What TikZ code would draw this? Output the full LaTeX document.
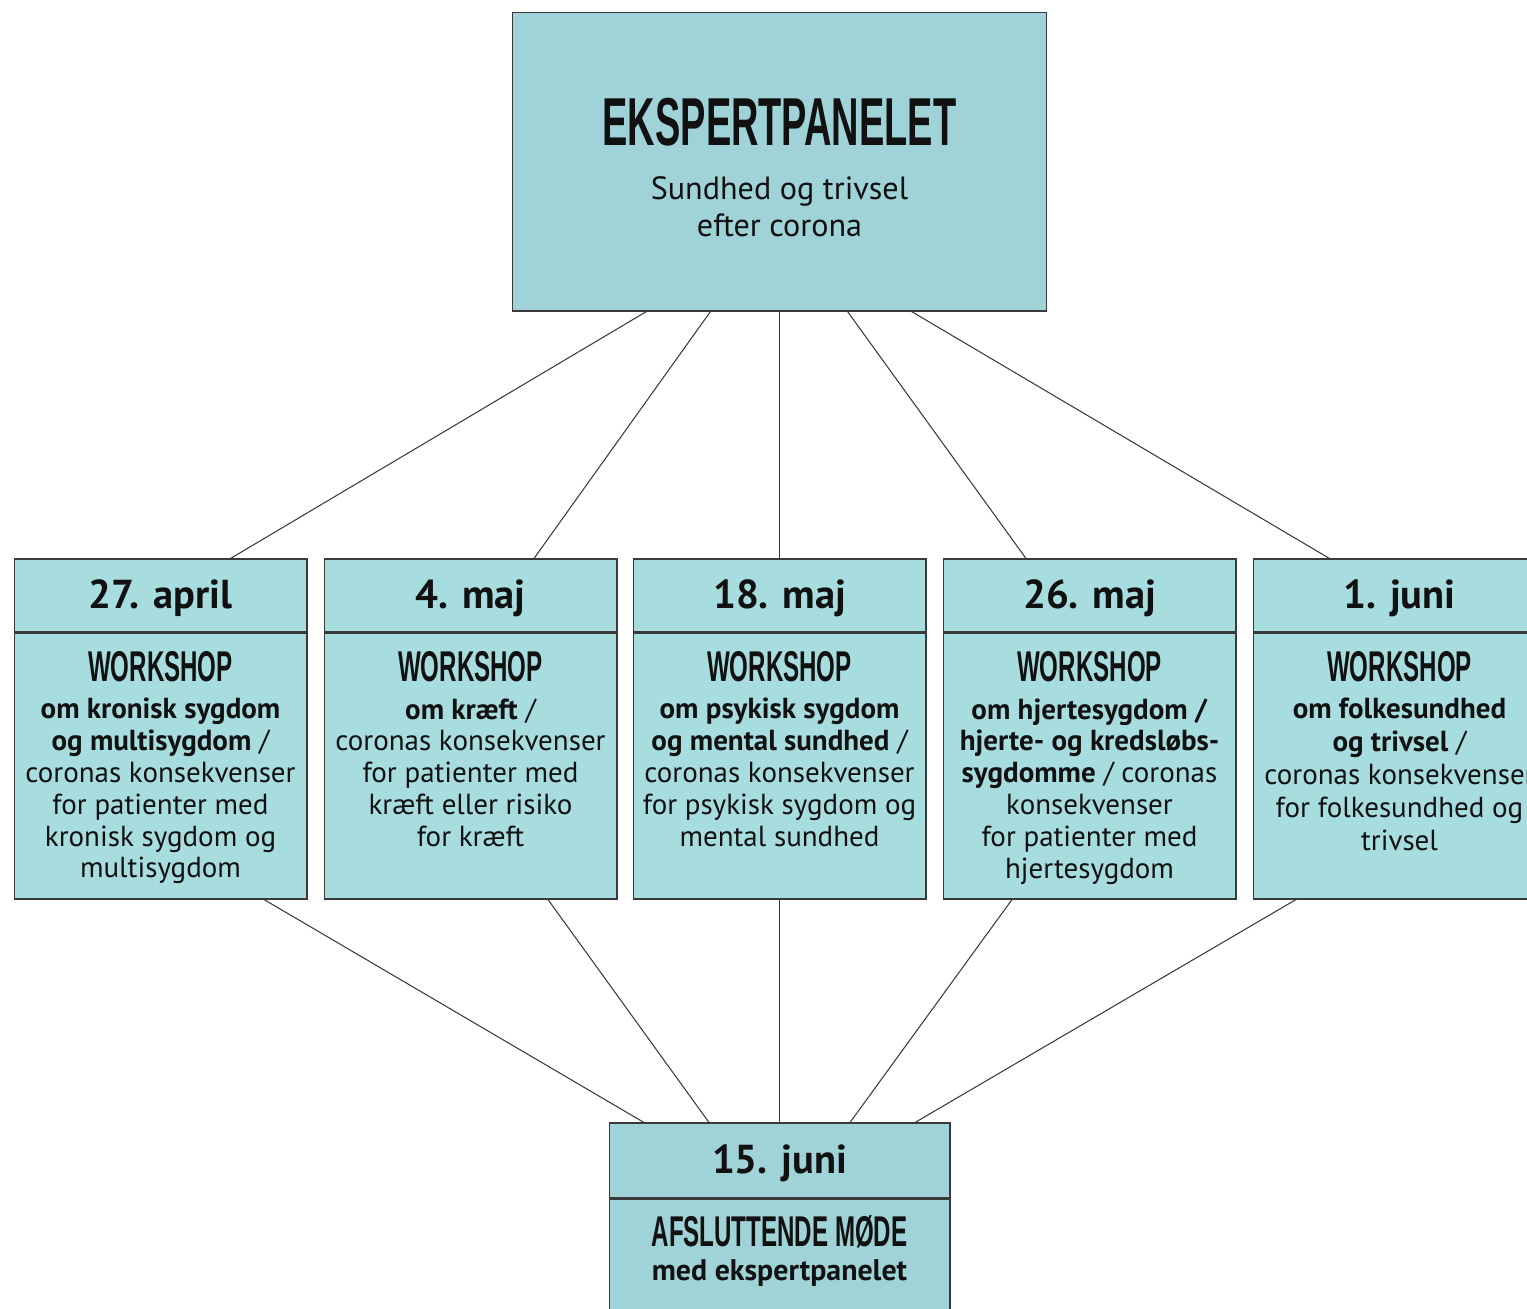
\documentclass[tikz,border=0pt]{standalone}
\usepackage{fontspec}
\setmainfont{PT Sans}
\newfontfamily\headfont[FakeStretch=0.56]{Liberation Sans}
\usetikzlibrary{positioning, calc}
\definecolor{panelfill}{HTML}{9FD3D8}
\definecolor{wsfill}{HTML}{A8DDE0}
\definecolor{frameline}{HTML}{3A3A3A}
\definecolor{textprimary}{HTML}{111111}

\begin{document}
\begin{tikzpicture}[x=0.02cm, y=-0.02cm,
    box/.style={draw=frameline, line width=0.6pt, inner sep=0pt, fill=wsfill},
    datebox/.style={box, minimum width=5.86cm, minimum height=1.46cm, text height=16pt, text depth=1pt, font=\fontsize{23}{28}\selectfont\bfseries, text=textprimary},
    bodybox/.style={box, minimum width=5.86cm, minimum height=5.32cm, anchor=north},
    head/.style={font=\fontsize{24.5}{28}\headfont\bfseries, text=textprimary, inner sep=0pt},
    body/.style={font=\fontsize{16.5}{18.1}\selectfont, align=center, text=textprimary, inner sep=0pt, anchor=north},
    link/.style={draw=frameline, line width=0.6pt}]
  \useasboundingbox (0,0) rectangle (1527,1308);
  \node[box, fill=panelfill, minimum width=10.7cm, minimum height=5.98cm] (panel) at (779.5,161.5) {};
  \node[font=\fontsize{38.6}{40}\headfont\bfseries, text=textprimary, inner sep=0pt] (title) at (779.5,122) {EKSPERTPANELET};
  \node[font=\fontsize{18.3}{21}\selectfont, align=center, text=textprimary, inner sep=0pt] (subtitle) at (779.5,207) {Sundhed og trivsel\\efter corona};

  \node[datebox] (d1) at (160.5,595.5) {27. april};
  \node[bodybox] (b1) at (d1.south) {};
  \node[head] (h1) at (160.5,667) {WORKSHOP};
  \node[body] (t1) at (160.5,698) {\textbf{om kronisk sygdom}\\\textbf{og multisygdom} /\\coronas konsekvenser\\for patienter med\\kronisk sygdom og\\multisygdom};

  \node[datebox] (d2) at (470.5,595.5) {4. maj};
  \node[bodybox] (b2) at (d2.south) {};
  \node[head] (h2) at (470.5,667) {WORKSHOP};
  \node[body] (t2) at (470.5,698) {\textbf{om kræft} /\\coronas konsekvenser\\for patienter med\\kræft eller risiko\\for kræft};

  \node[datebox] (d3) at (779.5,595.5) {18. maj};
  \node[bodybox] (b3) at (d3.south) {};
  \node[head] (h3) at (779.5,667) {WORKSHOP};
  \node[body] (t3) at (779.5,698) {\textbf{om psykisk sygdom}\\\textbf{og mental sundhed} /\\coronas konsekvenser\\for psykisk sygdom og\\mental sundhed};

  \node[datebox] (d4) at (1089.5,595.5) {26. maj};
  \node[bodybox] (b4) at (d4.south) {};
  \node[head] (h4) at (1089.5,667) {WORKSHOP};
  \node[body] (t4) at (1089.5,698) {\textbf{om hjertesygdom /}\\\textbf{hjerte- og kredsløbs-}\\\textbf{sygdomme} / coronas\\konsekvenser\\for patienter med\\hjertesygdom};

  \node[datebox] (d5) at (1399.5,595.5) {1. juni};
  \node[bodybox] (b5) at (d5.south) {};
  \node[head] (h5) at (1399.5,667) {WORKSHOP};
  \node[body, font=\fontsize{16.5}{18.7}\selectfont] (t5) at (1399.5,698) {\textbf{om folkesundhed}\\\textbf{og trivsel} /\\coronas konsekvenser\\for folkesundhed og\\trivsel};

  \node[datebox, fill=panelfill, minimum width=6.82cm, minimum height=1.5cm] (enddate) at (779.5,1160.5) {15. juni};
  \node[bodybox, fill=panelfill, minimum width=6.82cm, minimum height=2.6cm] (endbody) at (enddate.south) {};
  \node[head] (endhead) at (779.5,1232) {AFSLUTTENDE MØDE};
  \node[font=\fontsize{17}{20}\selectfont\bfseries, text=textprimary, inner sep=0pt] (endtext) at (779.5,1273) {med ekspertpanelet};

  \foreach \i/\a/\b in {1/-133/70, 2/-69/63.5, 3/0/0, 4/68/-63.5, 5/132/-70}
    \draw[link] ($(panel.south)+(\a,0)$) -- ($(d\i.north)+(\b,0)$);
  \foreach \i/\a/\b in {1/103.5/-135.5, 2/77.5/-70.5, 3/0/0, 4/-77.5/70.5, 5/-103.5/135.5}
    \draw[link] ($(b\i.south)+(\a,0)$) -- ($(enddate.north)+(\b,0)$);
\end{tikzpicture}
\end{document}
